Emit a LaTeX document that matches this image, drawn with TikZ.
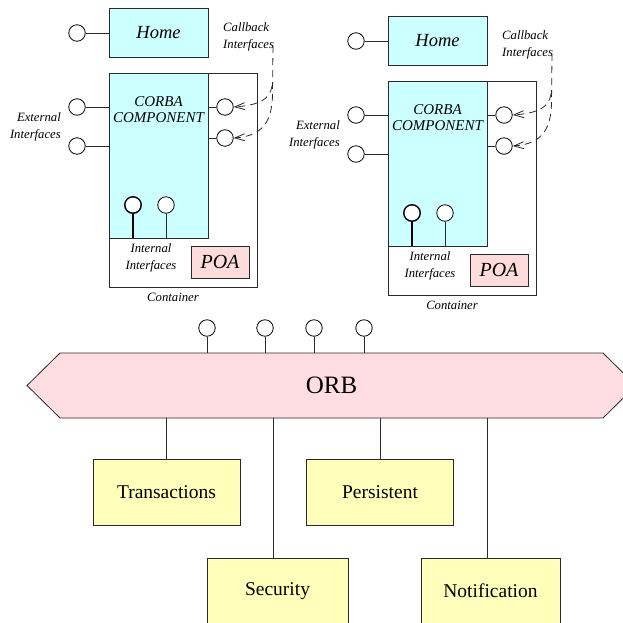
\documentclass[tikz,border=0pt]{standalone}
\usepackage{fontspec}
\setmainfont{Liberation Serif}
\usetikzlibrary{arrows.meta}
\definecolor{compcyan}{HTML}{CCFFFF}
\definecolor{orbpink}{HTML}{FFDDE0}
\definecolor{poapink}{HTML}{FFDCDC}
\definecolor{svcyellow}{HTML}{FFFFBB}
\definecolor{edge}{HTML}{2A2A2A}
\tikzset{
  line/.style={draw=edge, line width=0.8pt},
  port/.style={circle, draw=black, line width=0.8pt, fill=white, minimum size=16.5pt, inner sep=0pt},
  thickport/.style={port, line width=1.4pt},
  homebox/.style={line, fill=compcyan, minimum width=99pt, minimum height=49pt, inner sep=0pt,
    font=\fontsize{18.5}{20}\selectfont\itshape},
  compbox/.style={line, fill=compcyan, inner sep=0pt},
  poabox/.style={line, fill=poapink, minimum width=58pt, minimum height=32pt, inner sep=0pt,
    font=\fontsize{20}{22}\selectfont\itshape},
  svcbox/.style={line, fill=svcyellow, minimum width=147pt, minimum height=66pt, inner sep=0pt,
    font=\fontsize{19.5}{22}\selectfont},
  smalllabel/.style={inner sep=0pt, font=\fontsize{12.7}{17}\selectfont\itshape},
  complabel/.style={inner sep=0pt, align=center, font=\fontsize{15}{16}\selectfont\itshape},
  callback/.style={line, dashed, dash pattern=on 7pt off 5pt, -{Straight Barb[length=10pt,width=7pt]}},
}
% One component container with its home, ports and callback links
\newcommand{\ccmmodule}{%
  \node[homebox] (home) at (158.5,32.5) {Home};
  \node[port] (hp) at (77,33) {};
  \draw[line] (hp) -- (hp -| home.west);
  \draw[line, fill=white] (109,73) rectangle (257,287);
  \node[compbox, minimum width=99pt, minimum height=165pt] (comp) at (158.5,155.5) {};
  \node[complabel] (complbl) at (158.5,110) {CORBA\\COMPONENT};
  \node[port] (e1) at (77,107) {};
  \node[port] (e2) at (77,146) {};
  \draw[line] (e1) -- (e1 -| comp.west);
  \draw[line] (e2) -- (e2 -| comp.west);
  \node[port] (c1) at (225,107) {};
  \node[port] (c2) at (225,138) {};
  \draw[line] (comp.east |- c1) -- (c1);
  \draw[line] (comp.east |- c2) -- (c2);
  \node[thickport] (i1) at (133,205) {};
  \node[port] (i2) at (166,205) {};
  \draw[line, draw=black, line width=1.4pt] (i1) -- (i1 |- comp.south);
  \draw[line] (i2) -- (i2 |- comp.south);
  \node[poabox] (poa) at (220,262) {POA};
  \node[smalllabel, align=center] (intlbl) at (151,258) {Internal\\Interfaces};
  \node[smalllabel] (contlbl) at (173,297) {Container};
  \node[smalllabel, align=right, anchor=east] (extlbl) at (61,126.5) {External\\Interfaces};
  \node[smalllabel, align=left, anchor=west] (cblbl) at (223,36.5) {Callback\\Interfaces};
  \coordinate (cbtop) at (273,46);
  \coordinate (cbjoin) at (272,86);
  \draw[callback] (cbtop) -- (272.5,95) .. controls (272,121) and (263,136) .. (c2.east);
  \draw[callback] (cbjoin) .. controls (270,99) and (260,105) .. (c1.east);
}
\begin{document}
\begin{tikzpicture}[x=1pt, y=-1pt]
\useasboundingbox (0,0) rectangle (623,622);
\clip (0,0) rectangle (623,622);

% two containers
\begin{scope}[name prefix=l-]
  \ccmmodule
\end{scope}
\begin{scope}[shift={(279,8)}, name prefix=r-]
  \ccmmodule
\end{scope}

% ORB bus
\draw[line, fill=orbpink] (27,385.5) -- (60,353) -- (603,353) -- (636,385.5) -- (603,418) -- (60,418) -- cycle;
\node[minimum width=543pt, minimum height=65pt, inner sep=0pt, font=\fontsize{25}{27}\selectfont] (orb) at (331.5,385.5) {ORB};

% ports on the ORB
\node[port, minimum size=16.5pt] (o1) at (207,328) {};
\node[port, minimum size=16.5pt] (o2) at (265,328) {};
\node[port, minimum size=16.5pt] (o3) at (314,328) {};
\node[port, minimum size=16.5pt] (o4) at (364,328) {};
\foreach \p in {o1,o2,o3,o4} {
  \draw[line] (\p) -- (\p |- orb.north);
}

% services
\node[svcbox] (trans) at (166.5,492) {Transactions};
\node[svcbox] (pers) at (380,492) {Persistent};
\node[svcbox, minimum width=141pt] (sec) at (277.5,591) {Security};
\node[svcbox, minimum width=139pt] (notif) at (490.5,591) {Notification};
\draw[line] (trans.north) -- (trans.north |- orb.south);
\draw[line] (pers.north) -- (pers.north |- orb.south);
\coordinate (secstem) at (273,558);
\coordinate (notifstem) at (487,558);
\draw[line] (secstem) -- (secstem |- orb.south);
\draw[line] (notifstem) -- (notifstem |- orb.south);
\end{tikzpicture}
\end{document}
